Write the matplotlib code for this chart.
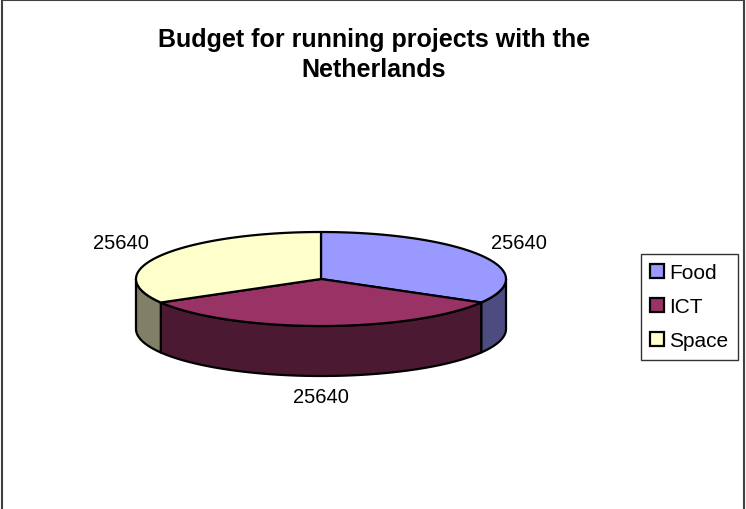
import numpy as np
import matplotlib
matplotlib.use("Agg")
import matplotlib.pyplot as plt
from matplotlib.patches import Polygon, Rectangle, Patch

plt.rcParams['font.family'] = ['Liberation Sans', 'DejaVu Sans']

# Data
categories = ["Food", "ICT", "Space"]
values = [25640, 25640, 25640]
top_colors = ["#9999FF", "#993366", "#FFFFCC"]
side_colors = ["#4C4C80", "#4C1933", "#808066"]
title = "Budget for running projects with the\nNetherlands"

W, H = 746, 510
fig = plt.figure(figsize=(W / 100, H / 100), dpi=100)
ax = fig.add_axes([0, 0, 1, 1])
ax.set_xlim(0, W)
ax.set_ylim(H, 0)
ax.axis("off")

# Pie geometry (pixel units)
cx, cy = 321, 280
a, b = 185, 47
depth = 50
lw = 1.6

def ell(theta, dy=0.0):
    return cx + a * np.cos(theta), cy - b * np.sin(theta) + dy

total = float(sum(values))
start = np.pi / 2
angles = []
for v in values:
    sweep = 2 * np.pi * v / total
    angles.append((start, start - sweep))  # clockwise
    start -= sweep

# Outer walls (front half only, where sin(theta) < 0)
for (t0, t1), sc in zip(angles, side_colors):
    lo, hi = min(t0, t1), max(t0, t1)
    for shift in (-2 * np.pi, 0, 2 * np.pi):
        l, h = lo + shift, hi + shift
        fl, fh = max(l, -np.pi), min(h, 0)
        if fh > fl:
            th = np.linspace(fl, fh, 100)
            xt, yt = ell(th)
            xb, yb = ell(th[::-1], depth)
            pts = np.column_stack([np.r_[xt, xb], np.r_[yt, yb]])
            ax.add_patch(Polygon(pts, closed=True, facecolor=sc,
                                 edgecolor="black", linewidth=lw,
                                 joinstyle="round", zorder=2))

# Top faces
for (t0, t1), tc in zip(angles, top_colors):
    th = np.linspace(t0, t1, 200)
    xs, ys = ell(th)
    pts = np.column_stack([np.r_[cx, xs], np.r_[cy, ys]])
    ax.add_patch(Polygon(pts, closed=True, facecolor=tc,
                         edgecolor="black", linewidth=lw,
                         joinstyle="round", zorder=3))

# Value labels
label_pos = [(519, 244), (321, 398), (121, 244)]
for (x, y), v in zip(label_pos, values):
    ax.text(x, y, f"{v}", ha="center", va="center", fontsize=14.5, zorder=5)

# Title
ax.text(374, 55, title, ha="center", va="center", fontsize=18,
        fontweight="bold", linespacing=1.3)

# Legend
handles = [Patch(facecolor=c, edgecolor="black", linewidth=1.6) for c in top_colors]
leg = ax.legend(handles, categories, loc="upper left",
                bbox_to_anchor=(641 / W, 1 - 255 / H),
                bbox_transform=fig.transFigure, borderaxespad=0,
                frameon=True, fancybox=False, edgecolor="black",
                fontsize=15, handlelength=0.65, handleheight=0.65,
                handletextpad=0.25, labelspacing=0.72, borderpad=0.45)
leg.get_frame().set_linewidth(1.0)

# Chart border
ax.add_patch(Rectangle((2, 1), 742, 520, facecolor="none",
                       edgecolor="#404040", linewidth=1.5, zorder=6))

fig.savefig("out.png", dpi=100)
